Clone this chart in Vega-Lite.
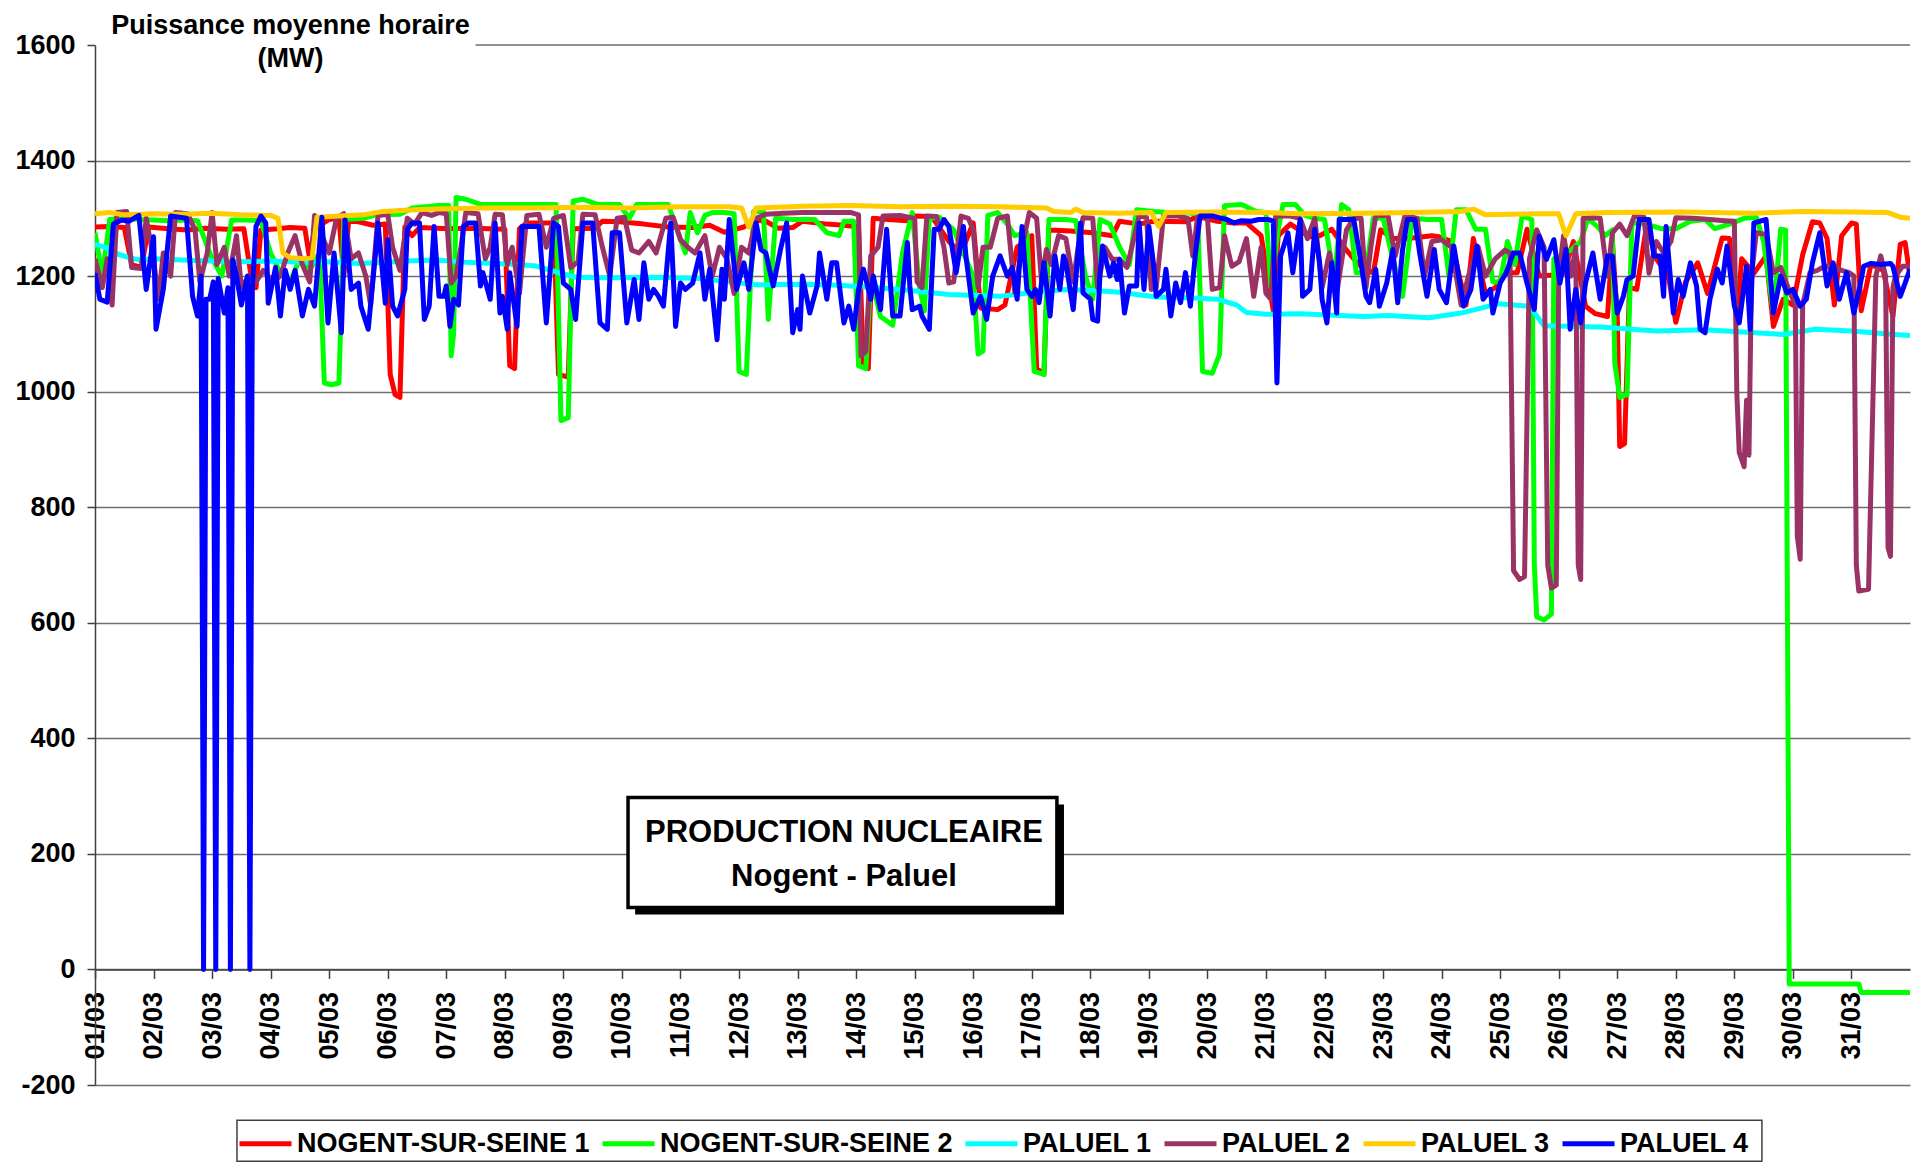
{
"$schema":"https://vega.github.io/schema/vega-lite/v6.json",
"width":1815,"height":1040,"autosize":"none",
"padding":{"left":95,"top":45,"right":6,"bottom":78},
"background":"white",
"config":{"font":"Liberation Sans","view":{"stroke":null}},
"datasets":{
"n1":[{"h":0,"v":1285},{"h":6,"v":1286},{"h":12,"v":1284},{"h":15,"v":1220},{"h":19,"v":1215},{"h":22,"v":1285},{"h":30,"v":1282},{"h":38,"v":1280},{"h":45,"v":1283},{"h":54,"v":1281},{"h":61,"v":1282},{"h":64,"v":1200},{"h":66,"v":1180},{"h":68,"v":1280},{"h":75,"v":1282},{"h":80,"v":1284},{"h":86,"v":1283},{"h":88,"v":1230},{"h":90,"v":1282},{"h":96,"v":1298},{"h":100,"v":1300},{"h":102,"v":1200},{"h":104,"v":1296},{"h":108,"v":1294},{"h":114,"v":1288},{"h":119,"v":1290},{"h":121,"v":1030},{"h":123,"v":995},{"h":125,"v":990},{"h":127,"v":1285},{"h":130,"v":1270},{"h":133,"v":1284},{"h":145,"v":1282},{"h":155,"v":1283},{"h":168,"v":1281},{"h":170,"v":1045},{"h":172,"v":1040},{"h":174,"v":1282},{"h":177,"v":1292},{"h":188,"v":1292},{"h":190,"v":1030},{"h":194,"v":1025},{"h":196,"v":1282},{"h":205,"v":1283},{"h":208,"v":1295},{"h":215,"v":1294},{"h":225,"v":1290},{"h":235,"v":1285},{"h":245,"v":1284},{"h":252,"v":1288},{"h":258,"v":1276},{"h":266,"v":1285},{"h":270,"v":1297},{"h":275,"v":1295},{"h":280,"v":1283},{"h":286,"v":1284},{"h":290,"v":1295},{"h":300,"v":1290},{"h":307,"v":1288},{"h":313,"v":1285},{"h":315,"v":1045},{"h":317,"v":1040},{"h":319,"v":1300},{"h":325,"v":1298},{"h":333,"v":1296},{"h":336,"v":1304},{"h":343,"v":1303},{"h":350,"v":1260},{"h":355,"v":1240},{"h":360,"v":1292},{"h":363,"v":1145},{"h":370,"v":1142},{"h":373,"v":1150},{"h":378,"v":1250},{"h":384,"v":1270},{"h":386,"v":1040},{"h":389,"v":1030},{"h":391,"v":1280},{"h":400,"v":1278},{"h":409,"v":1275},{"h":417,"v":1270},{"h":420,"v":1295},{"h":428,"v":1290},{"h":434,"v":1295},{"h":447,"v":1294},{"h":452,"v":1303},{"h":460,"v":1295},{"h":467,"v":1292},{"h":472,"v":1292},{"h":478,"v":1270},{"h":483,"v":1140},{"h":485,"v":1270},{"h":490,"v":1290},{"h":498,"v":1268},{"h":502,"v":1270},{"h":507,"v":1281},{"h":512,"v":1250},{"h":518,"v":1220},{"h":524,"v":1205},{"h":527,"v":1280},{"h":532,"v":1265},{"h":540,"v":1266},{"h":548,"v":1270},{"h":551,"v":1268},{"h":556,"v":1260},{"h":562,"v":1150},{"h":565,"v":1265},{"h":570,"v":1170},{"h":574,"v":1180},{"h":578,"v":1206},{"h":583,"v":1206},{"h":587,"v":1281},{"h":592,"v":1200},{"h":598,"v":1202},{"h":602,"v":1205},{"h":606,"v":1260},{"h":611,"v":1148},{"h":615,"v":1135},{"h":620,"v":1130},{"h":622,"v":1260},{"h":624,"v":1130},{"h":625,"v":905},{"h":627,"v":910},{"h":629,"v":1180},{"h":632,"v":1177},{"h":636,"v":1287},{"h":640,"v":1230},{"h":645,"v":1200},{"h":648,"v":1120},{"h":652,"v":1190},{"h":657,"v":1223},{"h":661,"v":1170},{"h":667,"v":1266},{"h":670,"v":1265},{"h":673,"v":1120},{"h":675,"v":1230},{"h":680,"v":1205},{"h":685,"v":1235},{"h":688,"v":1113},{"h":692,"v":1160},{"h":696,"v":1150},{"h":700,"v":1237},{"h":704,"v":1294},{"h":707,"v":1292},{"h":710,"v":1265},{"h":713,"v":1150},{"h":716,"v":1270},{"h":720,"v":1292},{"h":722,"v":1290},{"h":724,"v":1140},{"h":728,"v":1220},{"h":733,"v":1210},{"h":737,"v":1130},{"h":740,"v":1255},{"h":742,"v":1258},{"h":744,"v":1200}],
"n2":[{"h":0,"v":1275},{"h":3,"v":1200},{"h":6,"v":1298},{"h":12,"v":1300},{"h":18,"v":1298},{"h":24,"v":1297},{"h":30,"v":1296},{"h":36,"v":1297},{"h":42,"v":1296},{"h":48,"v":1230},{"h":52,"v":1200},{"h":56,"v":1297},{"h":62,"v":1297},{"h":68,"v":1296},{"h":72,"v":1240},{"h":76,"v":1205},{"h":80,"v":1190},{"h":84,"v":1230},{"h":88,"v":1210},{"h":92,"v":1240},{"h":94,"v":1015},{"h":97,"v":1012},{"h":100,"v":1015},{"h":102,"v":1298},{"h":110,"v":1300},{"h":115,"v":1306},{"h":125,"v":1307},{"h":130,"v":1318},{"h":140,"v":1322},{"h":145,"v":1322},{"h":146,"v":1062},{"h":147,"v":1100},{"h":148,"v":1336},{"h":152,"v":1333},{"h":158,"v":1324},{"h":170,"v":1324},{"h":180,"v":1324},{"h":189,"v":1324},{"h":191,"v":950},{"h":194,"v":955},{"h":196,"v":1330},{"h":200,"v":1333},{"h":206,"v":1324},{"h":215,"v":1324},{"h":219,"v":1300},{"h":222,"v":1324},{"h":235,"v":1324},{"h":242,"v":1240},{"h":244,"v":1310},{"h":247,"v":1275},{"h":250,"v":1305},{"h":253,"v":1310},{"h":258,"v":1310},{"h":262,"v":1308},{"h":264,"v":1035},{"h":267,"v":1030},{"h":270,"v":1312},{"h":274,"v":1312},{"h":276,"v":1125},{"h":279,"v":1300},{"h":286,"v":1298},{"h":295,"v":1298},{"h":300,"v":1275},{"h":305,"v":1270},{"h":307,"v":1295},{"h":311,"v":1295},{"h":313,"v":1045},{"h":316,"v":1040},{"h":318,"v":1200},{"h":322,"v":1130},{"h":327,"v":1115},{"h":331,"v":1240},{"h":335,"v":1310},{"h":338,"v":1180},{"h":340,"v":1140},{"h":342,"v":1300},{"h":346,"v":1302},{"h":352,"v":1280},{"h":356,"v":1240},{"h":360,"v":1200},{"h":362,"v":1065},{"h":364,"v":1070},{"h":366,"v":1305},{"h":370,"v":1310},{"h":374,"v":1290},{"h":377,"v":1270},{"h":382,"v":1275},{"h":385,"v":1035},{"h":389,"v":1030},{"h":391,"v":1298},{"h":398,"v":1298},{"h":402,"v":1296},{"h":406,"v":1200},{"h":409,"v":1160},{"h":412,"v":1298},{"h":416,"v":1290},{"h":420,"v":1250},{"h":424,"v":1220},{"h":427,"v":1315},{"h":434,"v":1312},{"h":440,"v":1310},{"h":446,"v":1310},{"h":452,"v":1308},{"h":454,"v":1035},{"h":458,"v":1032},{"h":461,"v":1065},{"h":463,"v":1322},{"h":470,"v":1324},{"h":476,"v":1312},{"h":480,"v":1310},{"h":482,"v":1180},{"h":485,"v":1280},{"h":487,"v":1324},{"h":492,"v":1324},{"h":496,"v":1305},{"h":500,"v":1300},{"h":504,"v":1298},{"h":508,"v":1194},{"h":511,"v":1324},{"h":514,"v":1315},{"h":517,"v":1206},{"h":521,"v":1206},{"h":524,"v":1300},{"h":528,"v":1300},{"h":532,"v":1230},{"h":536,"v":1165},{"h":540,"v":1300},{"h":546,"v":1298},{"h":552,"v":1298},{"h":555,"v":1200},{"h":558,"v":1315},{"h":562,"v":1315},{"h":566,"v":1281},{"h":570,"v":1281},{"h":573,"v":1190},{"h":576,"v":1190},{"h":579,"v":1260},{"h":582,"v":1220},{"h":585,"v":1304},{"h":589,"v":1298},{"h":590,"v":700},{"h":591,"v":610},{"h":594,"v":605},{"h":597,"v":615},{"h":598,"v":1230},{"h":601,"v":1235},{"h":605,"v":1245},{"h":609,"v":1260},{"h":612,"v":1300},{"h":616,"v":1285},{"h":619,"v":1270},{"h":622,"v":1280},{"h":623,"v":1050},{"h":625,"v":990},{"h":628,"v":995},{"h":630,"v":1292},{"h":636,"v":1290},{"h":642,"v":1282},{"h":648,"v":1282},{"h":654,"v":1295},{"h":660,"v":1298},{"h":664,"v":1282},{"h":670,"v":1290},{"h":676,"v":1300},{"h":681,"v":1302},{"h":684,"v":1260},{"h":688,"v":1136},{"h":691,"v":1281},{"h":693,"v":1280},{"h":694.5,"v":-25},{"h":723,"v":-25},{"h":724,"v":-40},{"h":744,"v":-40}],
"p1":[{"h":0,"v":1255},{"h":4,"v":1250},{"h":8,"v":1240},{"h":14,"v":1232},{"h":18,"v":1228},{"h":24,"v":1230},{"h":36,"v":1228},{"h":48,"v":1226},{"h":60,"v":1225},{"h":72,"v":1226},{"h":84,"v":1224},{"h":96,"v":1225},{"h":108,"v":1222},{"h":120,"v":1224},{"h":127,"v":1226},{"h":140,"v":1228},{"h":152,"v":1224},{"h":165,"v":1222},{"h":180,"v":1218},{"h":197,"v":1198},{"h":210,"v":1197},{"h":230,"v":1198},{"h":248,"v":1196},{"h":260,"v":1190},{"h":271,"v":1185},{"h":290,"v":1186},{"h":305,"v":1184},{"h":320,"v":1180},{"h":330,"v":1177},{"h":350,"v":1168},{"h":371,"v":1165},{"h":385,"v":1172},{"h":398,"v":1177},{"h":410,"v":1175},{"h":420,"v":1172},{"h":435,"v":1164},{"h":450,"v":1162},{"h":460,"v":1160},{"h":468,"v":1150},{"h":472,"v":1137},{"h":480,"v":1134},{"h":494,"v":1135},{"h":510,"v":1132},{"h":520,"v":1130},{"h":530,"v":1132},{"h":547,"v":1128},{"h":560,"v":1136},{"h":575,"v":1152},{"h":588,"v":1148},{"h":594,"v":1114},{"h":617,"v":1112},{"h":640,"v":1105},{"h":660,"v":1107},{"h":692,"v":1099},{"h":705,"v":1108},{"h":720,"v":1105},{"h":735,"v":1100},{"h":744,"v":1097}],
"p2":[{"h":0,"v":1230},{"h":3,"v":1180},{"h":5,"v":1230},{"h":7,"v":1150},{"h":9,"v":1310},{"h":13,"v":1312},{"h":15,"v":1215},{"h":19,"v":1213},{"h":21,"v":1300},{"h":24,"v":1230},{"h":26,"v":1160},{"h":28,"v":1240},{"h":31,"v":1200},{"h":33,"v":1310},{"h":38,"v":1308},{"h":41,"v":1280},{"h":43,"v":1190},{"h":46,"v":1240},{"h":48,"v":1310},{"h":50,"v":1220},{"h":53,"v":1250},{"h":55,"v":1200},{"h":58,"v":1270},{"h":60,"v":1180},{"h":63,"v":1200},{"h":66,"v":1190},{"h":69,"v":1210},{"h":73,"v":1190},{"h":76,"v":1200},{"h":79,"v":1240},{"h":82,"v":1270},{"h":85,"v":1220},{"h":88,"v":1190},{"h":90,"v":1305},{"h":94,"v":1260},{"h":96,"v":1240},{"h":99,"v":1300},{"h":102,"v":1308},{"h":105,"v":1230},{"h":108,"v":1240},{"h":111,"v":1200},{"h":113,"v":1150},{"h":116,"v":1305},{"h":120,"v":1307},{"h":122,"v":1250},{"h":125,"v":1210},{"h":128,"v":1300},{"h":131,"v":1290},{"h":134,"v":1310},{"h":138,"v":1305},{"h":141,"v":1310},{"h":144,"v":1308},{"h":146,"v":1188},{"h":148,"v":1200},{"h":150,"v":1250},{"h":152,"v":1310},{"h":157,"v":1308},{"h":160,"v":1230},{"h":162,"v":1250},{"h":164,"v":1307},{"h":167,"v":1306},{"h":169,"v":1220},{"h":171,"v":1250},{"h":174,"v":1170},{"h":177,"v":1305},{"h":182,"v":1307},{"h":185,"v":1250},{"h":188,"v":1300},{"h":192,"v":1305},{"h":195,"v":1215},{"h":198,"v":1225},{"h":200,"v":1307},{"h":205,"v":1306},{"h":208,"v":1250},{"h":211,"v":1200},{"h":214,"v":1300},{"h":217,"v":1302},{"h":220,"v":1245},{"h":223,"v":1240},{"h":227,"v":1260},{"h":230,"v":1240},{"h":234,"v":1300},{"h":237,"v":1302},{"h":240,"v":1263},{"h":243,"v":1250},{"h":246,"v":1240},{"h":250,"v":1270},{"h":253,"v":1200},{"h":256,"v":1250},{"h":259,"v":1230},{"h":262,"v":1170},{"h":265,"v":1250},{"h":268,"v":1240},{"h":271,"v":1300},{"h":275,"v":1307},{"h":282,"v":1309},{"h":290,"v":1310},{"h":300,"v":1310},{"h":310,"v":1310},{"h":313,"v":1306},{"h":314,"v":1062},{"h":316,"v":1070},{"h":318,"v":1235},{"h":321,"v":1250},{"h":323,"v":1304},{"h":330,"v":1305},{"h":336,"v":1300},{"h":337,"v":1190},{"h":339,"v":1180},{"h":341,"v":1304},{"h":345,"v":1303},{"h":348,"v":1250},{"h":350,"v":1188},{"h":352,"v":1190},{"h":355,"v":1304},{"h":358,"v":1300},{"h":360,"v":1280},{"h":362,"v":1180},{"h":364,"v":1250},{"h":367,"v":1250},{"h":370,"v":1300},{"h":374,"v":1304},{"h":377,"v":1172},{"h":380,"v":1250},{"h":383,"v":1310},{"h":386,"v":1300},{"h":388,"v":1190},{"h":390,"v":1246},{"h":392,"v":1220},{"h":395,"v":1270},{"h":398,"v":1265},{"h":401,"v":1190},{"h":403,"v":1250},{"h":405,"v":1301},{"h":409,"v":1300},{"h":411,"v":1180},{"h":414,"v":1250},{"h":417,"v":1229},{"h":420,"v":1229},{"h":423,"v":1215},{"h":425,"v":1250},{"h":428,"v":1304},{"h":431,"v":1302},{"h":433,"v":1177},{"h":435,"v":1180},{"h":438,"v":1304},{"h":444,"v":1304},{"h":448,"v":1300},{"h":450,"v":1235},{"h":452,"v":1304},{"h":456,"v":1302},{"h":458,"v":1177},{"h":461,"v":1180},{"h":463,"v":1270},{"h":466,"v":1217},{"h":469,"v":1225},{"h":472,"v":1265},{"h":475,"v":1165},{"h":478,"v":1250},{"h":480,"v":1170},{"h":482,"v":1160},{"h":484,"v":1304},{"h":490,"v":1304},{"h":494,"v":1300},{"h":497,"v":1265},{"h":500,"v":1300},{"h":503,"v":1180},{"h":506,"v":1240},{"h":509,"v":1170},{"h":513,"v":1280},{"h":516,"v":1300},{"h":519,"v":1300},{"h":521,"v":1180},{"h":523,"v":1250},{"h":525,"v":1305},{"h":530,"v":1305},{"h":533,"v":1235},{"h":537,"v":1305},{"h":542,"v":1300},{"h":545,"v":1200},{"h":548,"v":1260},{"h":552,"v":1263},{"h":556,"v":1250},{"h":560,"v":1150},{"h":563,"v":1200},{"h":567,"v":1250},{"h":570,"v":1200},{"h":574,"v":1230},{"h":578,"v":1245},{"h":580,"v":1240},{"h":581.5,"v":690},{"h":584,"v":675},{"h":586,"v":680},{"h":588,"v":1230},{"h":591,"v":1280},{"h":594,"v":1250},{"h":595.5,"v":700},{"h":597,"v":660},{"h":599,"v":665},{"h":600,"v":1200},{"h":602,"v":1270},{"h":605,"v":1200},{"h":607,"v":1250},{"h":608,"v":700},{"h":609,"v":675},{"h":610,"v":1300},{"h":614,"v":1301},{"h":617,"v":1300},{"h":620,"v":1200},{"h":622,"v":1275},{"h":625,"v":1290},{"h":628,"v":1270},{"h":631,"v":1304},{"h":635,"v":1302},{"h":637,"v":1205},{"h":640,"v":1260},{"h":643,"v":1240},{"h":646,"v":1260},{"h":648,"v":1301},{"h":655,"v":1300},{"h":662,"v":1298},{"h":668,"v":1296},{"h":672,"v":1295},{"h":673,"v":1000},{"h":674,"v":895},{"h":676,"v":870},{"h":677,"v":985},{"h":678,"v":890},{"h":679,"v":1200},{"h":681,"v":1275},{"h":685,"v":1272},{"h":688,"v":1206},{"h":691,"v":1215},{"h":694,"v":1180},{"h":697,"v":1150},{"h":697.8,"v":750},{"h":699,"v":710},{"h":700,"v":1150},{"h":703,"v":1206},{"h":706,"v":1210},{"h":709,"v":1217},{"h":712,"v":1217},{"h":716,"v":1210},{"h":719,"v":1206},{"h":721,"v":1200},{"h":722,"v":700},{"h":723,"v":655},{"h":727,"v":658},{"h":730,"v":1200},{"h":732,"v":1235},{"h":734,"v":1200},{"h":735,"v":730},{"h":736,"v":715},{"h":737,"v":1180},{"h":738,"v":1200},{"h":741,"v":1217},{"h":744,"v":1217}],
"p3":[{"h":0,"v":1308},{"h":6,"v":1310},{"h":12,"v":1306},{"h":24,"v":1308},{"h":36,"v":1307},{"h":48,"v":1309},{"h":60,"v":1306},{"h":72,"v":1305},{"h":75,"v":1300},{"h":77,"v":1240},{"h":80,"v":1232},{"h":86,"v":1230},{"h":89,"v":1232},{"h":91,"v":1302},{"h":100,"v":1304},{"h":110,"v":1306},{"h":118,"v":1312},{"h":127,"v":1314},{"h":140,"v":1316},{"h":160,"v":1318},{"h":180,"v":1318},{"h":200,"v":1319},{"h":220,"v":1318},{"h":240,"v":1320},{"h":260,"v":1320},{"h":265,"v":1318},{"h":268,"v":1285},{"h":271,"v":1318},{"h":290,"v":1321},{"h":310,"v":1322},{"h":330,"v":1320},{"h":350,"v":1321},{"h":371,"v":1320},{"h":390,"v":1318},{"h":393,"v":1312},{"h":400,"v":1310},{"h":402,"v":1316},{"h":405,"v":1310},{"h":420,"v":1309},{"h":433,"v":1310},{"h":436,"v":1286},{"h":439,"v":1310},{"h":460,"v":1311},{"h":480,"v":1310},{"h":494,"v":1308},{"h":520,"v":1309},{"h":540,"v":1310},{"h":560,"v":1312},{"h":565,"v":1316},{"h":570,"v":1306},{"h":590,"v":1308},{"h":600,"v":1308},{"h":603,"v":1270},{"h":607,"v":1308},{"h":620,"v":1310},{"h":650,"v":1311},{"h":680,"v":1309},{"h":700,"v":1312},{"h":720,"v":1311},{"h":735,"v":1310},{"h":740,"v":1302},{"h":744,"v":1300}],
"p4":[{"h":0,"v":1205},{"h":2,"v":1160},{"h":5,"v":1155},{"h":7.5,"v":1290},{"h":11,"v":1297},{"h":14,"v":1295},{"h":18,"v":1305},{"h":21,"v":1177},{"h":24,"v":1268},{"h":25,"v":1108},{"h":28,"v":1177},{"h":31,"v":1304},{"h":37.5,"v":1300},{"h":40,"v":1165},{"h":42,"v":1131},{"h":43.5,"v":1200},{"h":44.5,"v":0},{"h":45.5,"v":1160},{"h":47,"v":1160},{"h":48.5,"v":1190},{"h":49.5,"v":0},{"h":50.5,"v":1196},{"h":53,"v":1136},{"h":54.5,"v":1180},{"h":55.5,"v":0},{"h":56.5,"v":1228},{"h":58,"v":1200},{"h":60,"v":1150},{"h":62.5,"v":1200},{"h":63.5,"v":0},{"h":64.5,"v":1180},{"h":66,"v":1286},{"h":68,"v":1304},{"h":70,"v":1292},{"h":71,"v":1153},{"h":74,"v":1215},{"h":76,"v":1131},{"h":78,"v":1210},{"h":80,"v":1177},{"h":82,"v":1210},{"h":85,"v":1131},{"h":87.5,"v":1177},{"h":90,"v":1148},{"h":93,"v":1302},{"h":95.5,"v":1119},{"h":98,"v":1240},{"h":101,"v":1102},{"h":102.5,"v":1297},{"h":105,"v":1177},{"h":108,"v":1188},{"h":109,"v":1148},{"h":112,"v":1108},{"h":115,"v":1240},{"h":116,"v":1292},{"h":119,"v":1153},{"h":120,"v":1263},{"h":122,"v":1148},{"h":124,"v":1131},{"h":127,"v":1177},{"h":128,"v":1281},{"h":130,"v":1292},{"h":133,"v":1292},{"h":135,"v":1125},{"h":137,"v":1148},{"h":139,"v":1286},{"h":141,"v":1165},{"h":143,"v":1165},{"h":144,"v":1183},{"h":145.5,"v":1113},{"h":147,"v":1160},{"h":149,"v":1150},{"h":151,"v":1286},{"h":153,"v":1292},{"h":156,"v":1292},{"h":158,"v":1183},{"h":159,"v":1206},{"h":162,"v":1160},{"h":164,"v":1292},{"h":166,"v":1136},{"h":167,"v":1165},{"h":169,"v":1108},{"h":170,"v":1206},{"h":173,"v":1113},{"h":175,"v":1286},{"h":182,"v":1286},{"h":185,"v":1119},{"h":188,"v":1292},{"h":190,"v":1286},{"h":192,"v":1188},{"h":195,"v":1177},{"h":197,"v":1125},{"h":200,"v":1292},{"h":204,"v":1292},{"h":207,"v":1119},{"h":210,"v":1108},{"h":212,"v":1275},{"h":215,"v":1275},{"h":218,"v":1119},{"h":221,"v":1194},{"h":223,"v":1125},{"h":225,"v":1223},{"h":227,"v":1160},{"h":229,"v":1177},{"h":231,"v":1165},{"h":233,"v":1148},{"h":236,"v":1292},{"h":238,"v":1113},{"h":240,"v":1188},{"h":242,"v":1177},{"h":245,"v":1188},{"h":248,"v":1240},{"h":250,"v":1160},{"h":252,"v":1212},{"h":255,"v":1090},{"h":257,"v":1212},{"h":258,"v":1160},{"h":260,"v":1298},{"h":263,"v":1177},{"h":266,"v":1223},{"h":268,"v":1177},{"h":271,"v":1292},{"h":273,"v":1246},{"h":275,"v":1240},{"h":278,"v":1183},{"h":281,"v":1246},{"h":283.5,"v":1292},{"h":285,"v":1177},{"h":286,"v":1102},{"h":288,"v":1142},{"h":289,"v":1108},{"h":290,"v":1200},{"h":293,"v":1136},{"h":296,"v":1183},{"h":297,"v":1240},{"h":300,"v":1160},{"h":302,"v":1223},{"h":304,"v":1223},{"h":307,"v":1119},{"h":309,"v":1148},{"h":311,"v":1108},{"h":313,"v":1177},{"h":315,"v":1212},{"h":318,"v":1160},{"h":319,"v":1200},{"h":322,"v":1142},{"h":324.5,"v":1281},{"h":327,"v":1131},{"h":330,"v":1131},{"h":333,"v":1258},{"h":334,"v":1183},{"h":335,"v":1142},{"h":338,"v":1148},{"h":339,"v":1131},{"h":342,"v":1108},{"h":344,"v":1281},{"h":346,"v":1281},{"h":348,"v":1298},{"h":350,"v":1286},{"h":353,"v":1206},{"h":356,"v":1286},{"h":357,"v":1235},{"h":360,"v":1136},{"h":363,"v":1165},{"h":365.5,"v":1125},{"h":368,"v":1200},{"h":371,"v":1235},{"h":374,"v":1200},{"h":376,"v":1215},{"h":378,"v":1160},{"h":380,"v":1286},{"h":382,"v":1177},{"h":384,"v":1165},{"h":385.5,"v":1177},{"h":387,"v":1154},{"h":389,"v":1223},{"h":391.5,"v":1131},{"h":393.5,"v":1235},{"h":395.5,"v":1177},{"h":397,"v":1235},{"h":398,"v":1223},{"h":401,"v":1142},{"h":404,"v":1292},{"h":405,"v":1171},{"h":408,"v":1160},{"h":409,"v":1125},{"h":411,"v":1122},{"h":412,"v":1206},{"h":413,"v":1252},{"h":416,"v":1200},{"h":417.5,"v":1223},{"h":419,"v":1194},{"h":420,"v":1229},{"h":422,"v":1136},{"h":424,"v":1183},{"h":427,"v":1183},{"h":428,"v":1292},{"h":430,"v":1177},{"h":432,"v":1286},{"h":434,"v":1217},{"h":435,"v":1165},{"h":438,"v":1177},{"h":439,"v":1212},{"h":441,"v":1131},{"h":443,"v":1188},{"h":445,"v":1154},{"h":447,"v":1206},{"h":449,"v":1148},{"h":451,"v":1235},{"h":453,"v":1304},{"h":458,"v":1304},{"h":462,"v":1300},{"h":464,"v":1298},{"h":467,"v":1292},{"h":470,"v":1296},{"h":474,"v":1295},{"h":477,"v":1298},{"h":481,"v":1298},{"h":483,"v":1295},{"h":484.5,"v":1015},{"h":486,"v":1235},{"h":489,"v":1275},{"h":491,"v":1206},{"h":494,"v":1298},{"h":495,"v":1165},{"h":498,"v":1177},{"h":500,"v":1281},{"h":502,"v":1223},{"h":503,"v":1160},{"h":505,"v":1119},{"h":507,"v":1223},{"h":509,"v":1136},{"h":510,"v":1298},{"h":516,"v":1298},{"h":518.5,"v":1235},{"h":521,"v":1165},{"h":522.5,"v":1154},{"h":525,"v":1212},{"h":526.5,"v":1148},{"h":529.5,"v":1188},{"h":532,"v":1246},{"h":534,"v":1154},{"h":536,"v":1246},{"h":538,"v":1298},{"h":541,"v":1298},{"h":543,"v":1240},{"h":546,"v":1165},{"h":549,"v":1246},{"h":551,"v":1177},{"h":554,"v":1154},{"h":557,"v":1252},{"h":561,"v":1148},{"h":564,"v":1177},{"h":566.5,"v":1252},{"h":569,"v":1160},{"h":572,"v":1177},{"h":573,"v":1136},{"h":576,"v":1188},{"h":578.5,"v":1206},{"h":581.4,"v":1240},{"h":584,"v":1240},{"h":587,"v":1188},{"h":590,"v":1142},{"h":592,"v":1269},{"h":595,"v":1229},{"h":598,"v":1263},{"h":600.5,"v":1188},{"h":603,"v":1246},{"h":604.7,"v":1108},{"h":607,"v":1177},{"h":609,"v":1119},{"h":611,"v":1188},{"h":614,"v":1240},{"h":617,"v":1160},{"h":620,"v":1235},{"h":622,"v":1235},{"h":624,"v":1136},{"h":626.5,"v":1165},{"h":628,"v":1194},{"h":630.5,"v":1200},{"h":633,"v":1298},{"h":637,"v":1298},{"h":639,"v":1235},{"h":641.5,"v":1235},{"h":643,"v":1165},{"h":644,"v":1286},{"h":647,"v":1136},{"h":649,"v":1194},{"h":651,"v":1165},{"h":654,"v":1223},{"h":656.5,"v":1183},{"h":658,"v":1108},{"h":660,"v":1102},{"h":662,"v":1160},{"h":665,"v":1212},{"h":667,"v":1188},{"h":669,"v":1252},{"h":672,"v":1148},{"h":674,"v":1119},{"h":677,"v":1217},{"h":678.5,"v":1108},{"h":680,"v":1292},{"h":685,"v":1298},{"h":688,"v":1136},{"h":691,"v":1200},{"h":693.5,"v":1171},{"h":696,"v":1177},{"h":699,"v":1148},{"h":701.5,"v":1160},{"h":704,"v":1223},{"h":707,"v":1275},{"h":710,"v":1183},{"h":712.5,"v":1223},{"h":715,"v":1160},{"h":718,"v":1206},{"h":721,"v":1136},{"h":723.5,"v":1183},{"h":725,"v":1217},{"h":728,"v":1222},{"h":732,"v":1220},{"h":736,"v":1222},{"h":737,"v":1217},{"h":740,"v":1165},{"h":742,"v":1188},{"h":744,"v":1212}]
},
"encoding":{
"x":{"field":"h","type":"quantitative","scale":{"domain":[0,744],"nice":false,"zero":false},
"axis":{"values":[0,24,48,72,96,120,144,168,192,216,240,264,288,312,336,360,384,408,432,456,480,504,528,552,576,600,624,648,672,696,720],
"labelExpr":"(floor(datum.value/24)+1 < 10 ? '0' : '') + (floor(datum.value/24)+1) + '/03'",
"labelAngle":270,"grid":false,"offset":-115.56,"tickSize":9,"tickWidth":1.5,"tickColor":"#404040","labelPadding":13,
"labelFontSize":27,"labelFontWeight":"bold","labelColor":"black","labelFlush":false,"labelOverlap":false,"labelBound":false,
"domainColor":"#404040","domainWidth":1.5,"title":null}},
"y":{"field":"v","type":"quantitative","scale":{"domain":[-200,1600],"nice":false,"zero":false},
"axis":{"values":[-200,0,200,400,600,800,1000,1200,1400,1600],"labelExpr":"'' + datum.value","grid":true,"gridColor":"#6e6e6e","gridWidth":1.5,
"gridOpacity":{"condition":{"test":"datum.value == 1600","value":0},"value":1},
"tickSize":8,"tickWidth":1.5,"tickColor":"#404040","labelPadding":12,"labelFontSize":27,"labelFontWeight":"bold","labelColor":"black",
"domainColor":"#404040","domainWidth":1.5,"labelFlush":false,
"title":["Puissance moyenne horaire","(MW)"],"titleAngle":0,"titleX":195,"titleY":-12,"titleAlign":"center","titleBaseline":"alphabetic",
"titleFontSize":27,"titleFontWeight":"bold","titleLineHeight":33,"titleColor":"black"}}
},
"layer":[
{"data":{"values":[{"h":156,"h2":744,"v":1600}]},"mark":{"type":"rule","color":"#6e6e6e","strokeWidth":1.5},"encoding":{"x2":{"field":"h2"}}},
{"data":{"values":[{"h":58.2,"h2":683.3,"v":-261,"v2":-332}]},"mark":{"type":"rect","fill":"white","stroke":"#404040","strokeWidth":1.5,"clip":false},"encoding":{"x2":{"field":"h2"},"y2":{"field":"v2"}}},
{"data":{"name":"n1"},"mark":{"type":"line","strokeWidth":5,"strokeJoin":"round","clip":true},"encoding":{"color":{"datum":"NOGENT-SUR-SEINE 1","type":"nominal","scale":{"domain":["NOGENT-SUR-SEINE 1","NOGENT-SUR-SEINE 2","PALUEL 1","PALUEL 2","PALUEL 3","PALUEL 4"],"range":["#ff0000","#00ff00","#00ffff","#993366","#ffcc00","#0000ff"]},
"legend":{"orient":"none","legendX":142,"legendY":1070,"direction":"horizontal","columns":6,"title":null,"symbolType":"stroke","symbolSize":2704,"symbolStrokeWidth":5,"labelFontSize":27,"labelFontWeight":"bold","labelColor":"black","strokeColor":null,"padding":0,"columnPadding":2,"labelOffset":3,"symbolOpacity":1,"labelLimit":400,"offset":0}}}},
{"data":{"name":"n2"},"mark":{"type":"line","strokeWidth":5,"strokeJoin":"round","clip":true},"encoding":{"color":{"datum":"NOGENT-SUR-SEINE 2","type":"nominal"}}},
{"data":{"name":"p1"},"mark":{"type":"line","strokeWidth":5,"strokeJoin":"round","clip":true},"encoding":{"color":{"datum":"PALUEL 1","type":"nominal"}}},
{"data":{"name":"p2"},"mark":{"type":"line","strokeWidth":5,"strokeJoin":"round","clip":true},"encoding":{"color":{"datum":"PALUEL 2","type":"nominal"}}},
{"data":{"name":"p3"},"mark":{"type":"line","strokeWidth":5,"strokeJoin":"round","clip":true},"encoding":{"color":{"datum":"PALUEL 3","type":"nominal"}}},
{"data":{"name":"p4"},"mark":{"type":"line","strokeWidth":5,"strokeJoin":"round","clip":true},"encoding":{"color":{"datum":"PALUEL 4","type":"nominal"}}},
{"data":{"values":[{"h":221.4,"h2":397.2,"v":285.6,"v2":95.2}]},"mark":{"type":"rect","fill":"black"},"encoding":{"x2":{"field":"h2"},"y2":{"field":"v2"}}},
{"data":{"values":[{"h":218.5,"h2":394.3,"v":297.7,"v2":107.3}]},"mark":{"type":"rect","fill":"white","stroke":"black","strokeWidth":3.5},"encoding":{"x2":{"field":"h2"},"y2":{"field":"v2"}}},
{"data":{"values":[{"h":307,"v":219.8,"t":"PRODUCTION NUCLEAIRE"},{"h":307,"v":143.6,"t":"Nogent - Paluel"}]},"mark":{"type":"text","fontSize":31,"fontWeight":"bold","align":"center","baseline":"alphabetic","color":"black"},"encoding":{"text":{"field":"t","type":"nominal"}}}
]
}
